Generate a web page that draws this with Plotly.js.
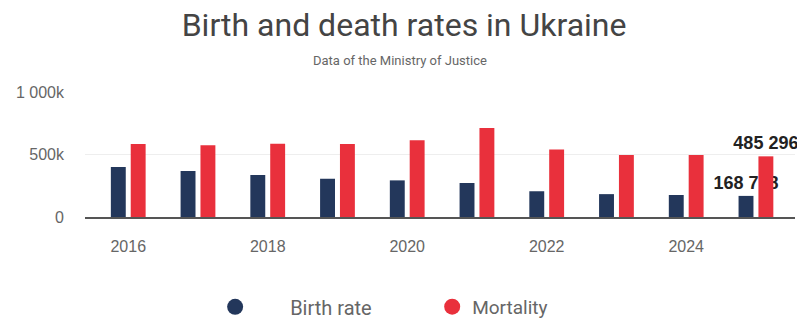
<!DOCTYPE html>
<html><head><meta charset="utf-8">
<script src="https://cdn.plot.ly/plotly-3.0.1.min.js"></script>
<style>html,body{margin:0;padding:0;background:#fff}#chart{width:797px;height:322px}</style>
</head><body><div id="chart"></div>
<script>
const years = [2016, 2017, 2018, 2019, 2020, 2021, 2022, 2023, 2024, 2025];
const birthRate = [400000, 368000, 336000, 306000, 293000, 272000, 206000, 183000, 176000, 168778];
const mortality = [585000, 574000, 587000, 585000, 614000, 712000, 540000, 496000, 496000, 485296];
const birthLabels = ["", "", "", "", "", "", "", "", "", "168 778"];
const mortLabels = ["", "", "", "", "", "", "", "", "", "485 296"];
const yTickVals = [0, 500000, 1000000];
const yTickText = ["0", "500k", "1 000k"];
const xTickVals = [2016, 2018, 2020, 2022, 2024];

const navy = "#23375b", red = "#e9303c";
const labelFont = {family: "Liberation Sans, Arial, sans-serif", size: 18, color: "#222", weight: "bold"};
const tickFont = {family: "Liberation Sans, Arial, sans-serif", size: 16, color: "#666"};

const data = [
  {type: "bar", x: years, y: birthRate, name: "Birth rate", marker: {color: navy}, showlegend: false,
   text: birthLabels, textposition: "outside", textfont: labelFont, constraintext: "none", cliponaxis: false},
  {type: "bar", x: years, y: mortality, name: "Mortality", marker: {color: red}, showlegend: false,
   text: mortLabels, textposition: "outside", textfont: labelFont, constraintext: "none", cliponaxis: false},
  {type: "scatter", mode: "markers", x: [null], y: [null], name: "Birth rate", legend: "legend",
   marker: {color: navy, size: 20, symbol: "circle"}},
  {type: "scatter", mode: "markers", x: [null], y: [null], name: "Mortality", legend: "legend2",
   marker: {color: red, size: 20, symbol: "circle"}}
];

const legendFont = {family: "Roboto, sans-serif", size: 19, color: "#666"};
const layout = {
  width: 797, height: 322,
  margin: {l: 85, r: 2, t: 92, b: 105, autoexpand: false},
  paper_bgcolor: "#fff", plot_bgcolor: "#fff",
  title: {text: "Birth and death rates in Ukraine",
          font: {family: "Roboto, sans-serif", size: 32, color: "#444"},
          x: 0.507, xanchor: "center", xref: "container", y: 0.922, yref: "container", yanchor: "middle", automargin: false},
  annotations: [{text: "Data of the Ministry of Justice", xref: "paper", yref: "paper", x: 0.5, y: 1.0,
                 showarrow: false, yanchor: "middle", yshift: 32, xshift: -40,
                 font: {family: "Roboto, sans-serif", size: 13, color: "#666"}}],
  barmode: "group", bargap: 0.43, bargroupgap: 0.25,
  xaxis: {range: [2015.38, 2025.56], tickvals: xTickVals, showgrid: false,
          showline: true, linecolor: "#555", linewidth: 1.5, zeroline: false,
          ticks: "", ticklabelstandoff: 14, tickfont: tickFont, automargin: false},
  yaxis: {range: [0, 1000000], tickvals: yTickVals, ticktext: yTickText, showgrid: true, gridcolor: "#eeeeee",
          zeroline: false, showline: false, ticks: "", ticklabelstandoff: 20, tickfont: tickFont, automargin: false},
  showlegend: true,
  legend: {orientation: "h", x: 0.134, xanchor: "left", y: 0.047, yref: "container", yanchor: "middle", itemwidth: 100,
           font: {family: "Roboto, sans-serif", size: 20, color: "#666"}, bgcolor: "rgba(0,0,0,0)"},
  legend2: {orientation: "h", x: 0.489, xanchor: "left", y: 0.047, yref: "container", yanchor: "middle",
           font: legendFont, bgcolor: "rgba(0,0,0,0)"}
};
Plotly.newPlot("chart", data, layout, {displayModeBar: false, staticPlot: true});
</script></body></html>
